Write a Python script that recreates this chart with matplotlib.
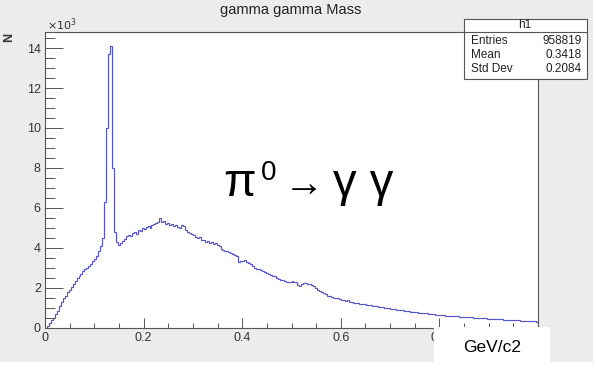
import matplotlib
matplotlib.use("Agg")
from matplotlib import pyplot as plt
from matplotlib.patches import Rectangle
import numpy as np

# histogram: 250 bins of width 0.004 from 0 to 1, counts in units of 1e3
bin_lo = 0.0
bin_hi = 1.0
counts = [
    0.02, 0.10, 0.25, 0.38, 0.52, 0.68, 0.86, 1.08, 1.30, 1.50,
    1.62, 1.78, 1.90, 2.05, 2.20, 2.35, 2.48, 2.60, 2.70, 2.85,
    2.95, 3.00, 3.10, 3.20, 3.35, 3.45, 3.60, 3.85, 4.10, 4.50,
    6.30, 10.00, 13.70, 14.10, 8.00, 4.80, 4.30, 4.15, 4.25, 4.35,
    4.45, 4.60, 4.65, 4.60, 4.75, 4.80, 4.70, 4.90, 4.85, 5.00,
    4.95, 5.05, 5.10, 5.00, 5.15, 5.20, 5.25, 5.30, 5.50, 5.30,
    5.35, 5.20, 5.25, 5.15, 5.20, 5.10, 5.15, 5.05, 5.00, 5.15,
    5.10, 4.90, 4.80, 4.75, 4.70, 4.65, 4.55, 4.50, 4.55, 4.40,
    4.40, 4.30, 4.35, 4.25, 4.30, 4.20, 4.25, 4.15, 4.10, 3.95,
    3.90, 3.85, 3.85, 3.80, 3.75, 3.72, 3.65, 3.60, 3.30, 3.35,
    3.35, 3.38, 3.30, 3.25, 3.20, 3.10, 3.00, 2.95, 2.95, 2.88,
    2.85, 2.82, 2.75, 2.68, 2.65, 2.62, 2.60, 2.52, 2.45, 2.40,
    2.38, 2.35, 2.30, 2.32, 2.30, 2.35, 2.30, 2.28, 2.15, 2.12,
    2.22, 2.25, 2.25, 2.22, 2.18, 2.15, 2.08, 2.00, 1.92, 1.85,
    1.80, 1.75, 1.68, 1.62, 1.60, 1.55, 1.52, 1.50, 1.48, 1.45,
    1.42, 1.40, 1.35, 1.38, 1.30, 1.28, 1.27, 1.25, 1.24, 1.22,
    1.22, 1.20, 1.18, 1.17, 1.15, 1.16, 1.12, 1.10, 1.08, 1.07,
    1.05, 1.03, 1.02, 1.00, 0.98, 0.97, 0.95, 0.93, 0.92, 0.90,
    0.90, 0.88, 0.87, 0.85, 0.84, 0.82, 0.80, 0.80, 0.78, 0.77,
    0.76, 0.75, 0.74, 0.73, 0.71, 0.70, 0.69, 0.68, 0.66, 0.66,
    0.64, 0.63, 0.63, 0.62, 0.61, 0.61, 0.60, 0.60, 0.59, 0.58,
    0.57, 0.56, 0.56, 0.55, 0.54, 0.53, 0.53, 0.52, 0.51, 0.50,
    0.50, 0.49, 0.48, 0.48, 0.47, 0.46, 0.46, 0.45, 0.44, 0.44,
    0.43, 0.43, 0.42, 0.42, 0.41, 0.41, 0.40, 0.40, 0.39, 0.38,
    0.38, 0.37, 0.37, 0.36, 0.35, 0.35, 0.34, 0.33, 0.33, 0.32,
]
x_ticks = [0, 0.2, 0.4, 0.6, 0.8, 1.0]
x_labels = ["0", "0.2", "0.4", "0.6", "0.8", "1"]
y_ticks = [0, 2, 4, 6, 8, 10, 12, 14]
y_labels = ["0", "2", "4", "6", "8", "10", "12", "14"]
stat_names = ["Entries", "Mean", "Std Dev"]
stat_values = ["958819", "0.3418", "0.2084"]

W, H = 596, 368
plt.rcParams['font.family'] = ['Liberation Sans', 'DejaVu Sans']
fig = plt.figure(figsize=(W / 100, H / 100), dpi=100, facecolor="white")

def fx(px):
    return px / W

def fy(py):
    return 1 - py / H

# grey canvas
fig.add_artist(Rectangle((0, fy(362)), fx(593), 1 - fy(362), transform=fig.transFigure,
                         facecolor="#ececec", edgecolor="none", zorder=-5))

ax = fig.add_axes([fx(45), fy(328), fx(538) - fx(45), fy(32) - fy(328)])
ax.set_facecolor("white")
edges = np.linspace(bin_lo, bin_hi, len(counts) + 1)
ax.stairs(counts, edges, color="#5656cc", linewidth=0.85)
ax.set_xlim(0, 1.0)
ax.set_ylim(0, 14.8)

ax.set_xticks(x_ticks, x_labels)
ax.set_yticks(y_ticks, y_labels)
ax.set_xticks(np.arange(0, 1.0001, 0.05), minor=True)
ax.set_yticks(np.arange(0, 14.8, 0.5), minor=True)
ax.tick_params(axis="x", which="major", direction="in", length=7.2, width=0.7,
               color="#555555", labelsize=9, labelcolor="#333333", pad=3)
ax.tick_params(axis="x", which="minor", direction="in", length=3.6, width=0.7, color="#555555")
ax.tick_params(axis="y", which="major", direction="in", length=13, width=0.7,
               color="#555555", labelsize=9, labelcolor="#333333", pad=3)
ax.tick_params(axis="y", which="minor", direction="in", length=7, width=0.7, color="#555555")
for s in ax.spines.values():
    s.set_color("#555555")
    s.set_linewidth(0.8)

fig.text(fx(291), fy(10), "gamma gamma Mass", ha="center", va="center", fontsize=10.5, color="#222222")
fig.text(fx(9), fy(37), "N", ha="center", va="center", rotation=90, fontsize=9,
         fontweight="bold", color="#333333")
fig.text(fx(47), fy(25), r"$\times10^{3}$", ha="left", va="center", fontsize=8, color="#333333")

# stats box
fig.add_artist(Rectangle((fx(464), fy(79)), fx(587) - fx(464), fy(19) - fy(79),
                         transform=fig.transFigure, facecolor="white",
                         edgecolor="#555555", linewidth=0.8, zorder=3))
fig.add_artist(plt.Line2D([fx(464), fx(587)], [fy(32), fy(32)], transform=fig.transFigure,
                          color="#555555", linewidth=0.8, zorder=4))
fig.text(fx(525), fy(25.5), "h1", ha="center", va="center", fontsize=8.5, color="#222222", zorder=5)
for i, (n, v) in enumerate(zip(stat_names, stat_values)):
    y = fy(40.5 + 14 * i)
    fig.text(fx(471), y, n, ha="left", va="center", fontsize=8.5, color="#222222", zorder=5)
    fig.text(fx(582), y, v, ha="right", va="center", fontsize=8.5, color="#222222", zorder=5)

# decay label
fig.text(fx(223), fy(196), "π", ha="left", va="baseline", fontsize=34, color="black")
fig.text(fx(261), fy(180), "0", ha="left", va="baseline", fontsize=20, color="black")
fig.text(fx(284), fy(196), "→", ha="left", va="baseline", fontsize=29, color="black")
fig.text(fx(333), fy(196), "γ γ", ha="left", va="baseline", fontsize=34, color="black")

# unit label box at the bottom right
fig.add_artist(Rectangle((fx(434), fy(362)), fx(550) - fx(434), fy(327) - fy(362),
                         transform=fig.transFigure, facecolor="white", edgecolor="none", zorder=3))
fig.text(fx(492), fy(347), "GeV/c2", ha="center", va="center", fontsize=12.5, color="black", zorder=5)

fig.savefig("out.png", dpi=100, facecolor="white")
